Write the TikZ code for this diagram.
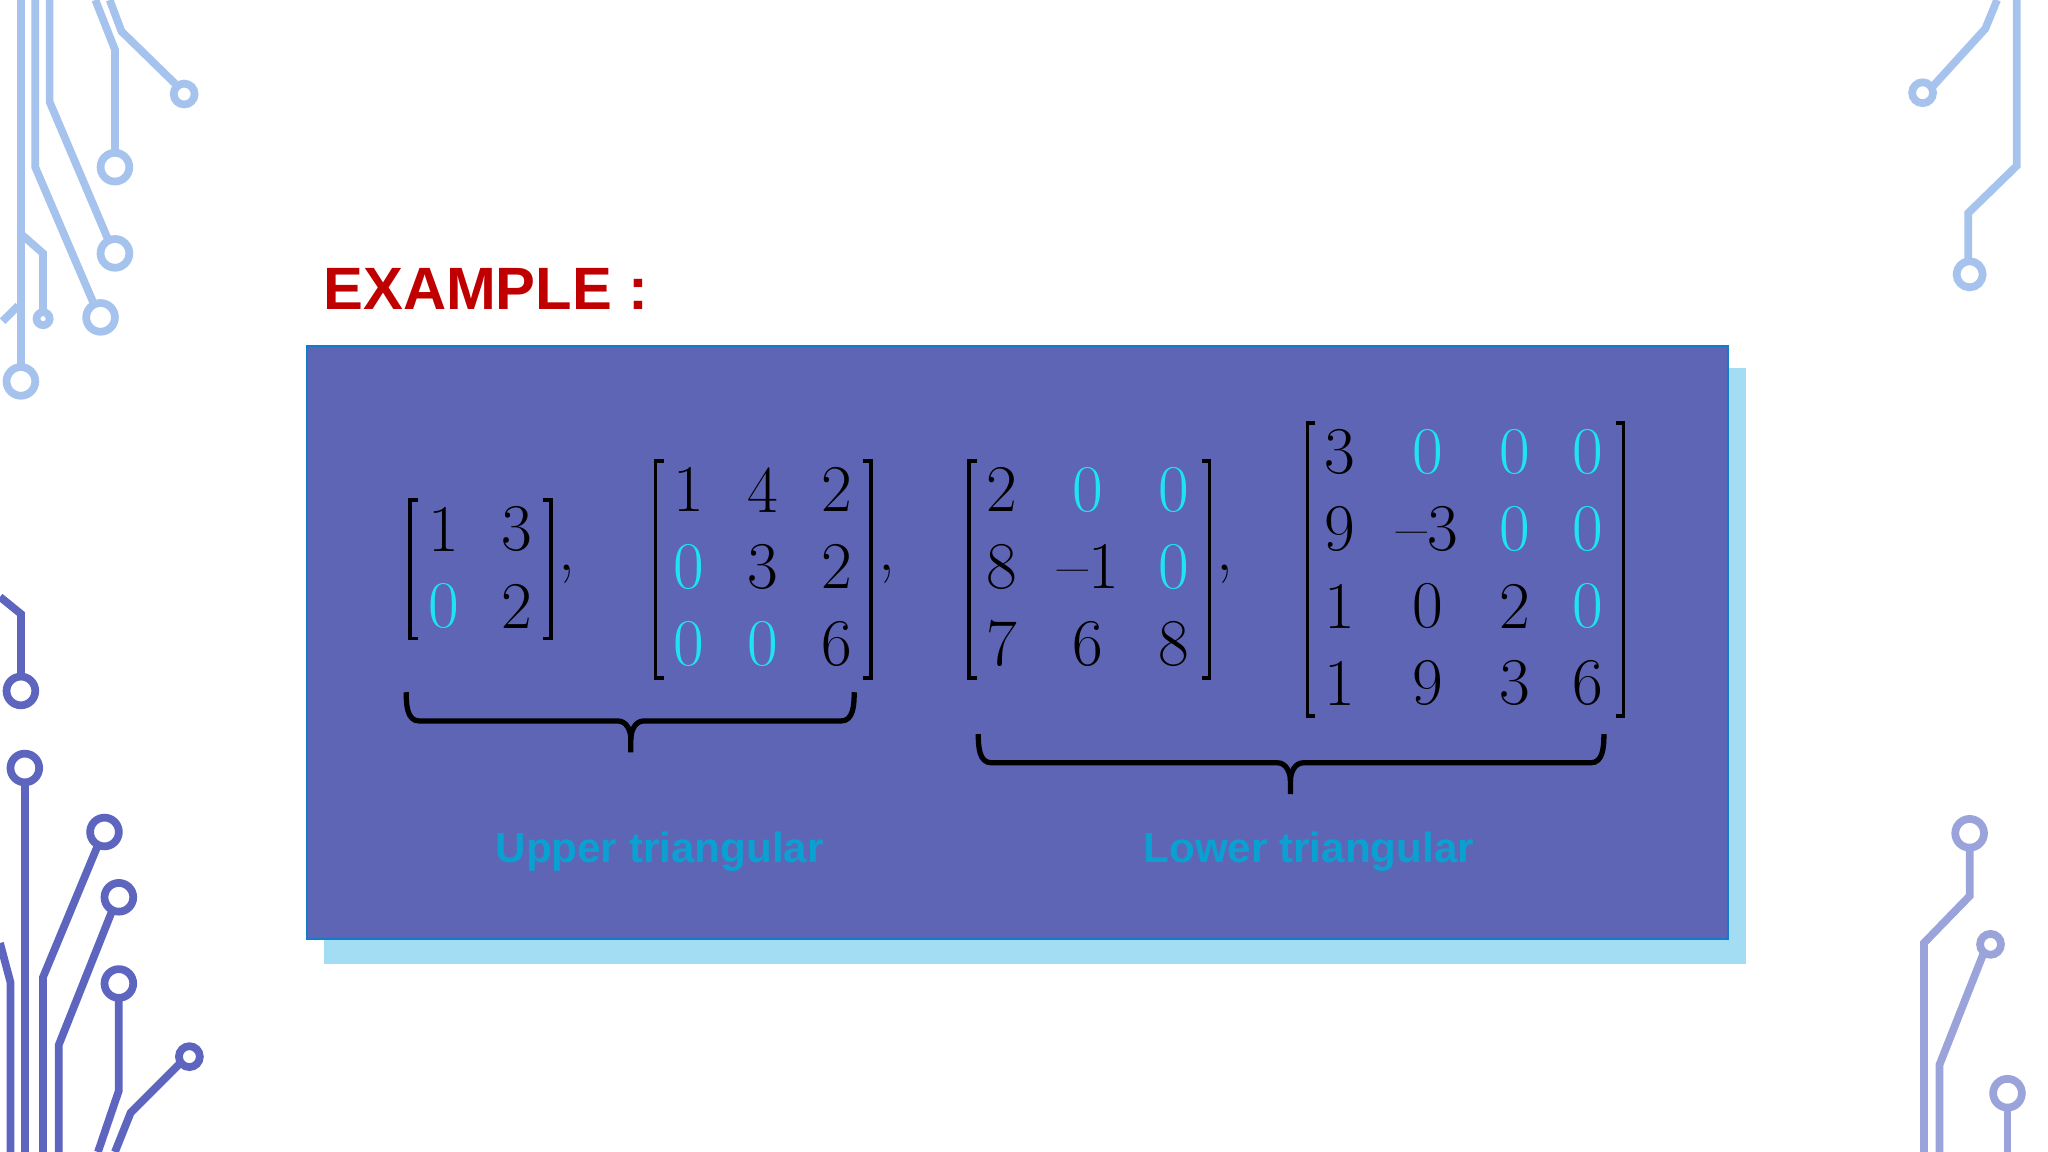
\documentclass[tikz,border=0pt]{standalone}
\usepackage{fontspec}
\newfontfamily\lab{Liberation Sans}
\definecolor{boxc}{HTML}{5E65B5}
\definecolor{shad}{HTML}{A3DDF3}
\definecolor{exred}{HTML}{C00000}
\definecolor{zc}{HTML}{1DE3F5}
\definecolor{labc}{HTML}{0AA0D2}
\definecolor{cirA}{HTML}{A6C3EE}
\definecolor{cirB}{HTML}{5D65BF}
\definecolor{cirC}{HTML}{9AA3DA}
\tikzset{
 ent/.style={font=\fontsize{19}{22}\selectfont, text=black, inner sep=0pt, anchor=center},
 zer/.style={ent, text=zc},
 brk/.style={line width=1pt, black},
 brc/.style={line width=1.5pt, black},
 cir/.style={line width=2.2pt},
 lbl/.style={font=\lab\bfseries\fontsize{12}{14}\selectfont, text=labc}
}
\begin{document}
\begin{tikzpicture}[x=0.01306cm,y=-0.01306cm]
\useasboundingbox (0,0) rectangle (1568,882);
\fill[white] (0,0) rectangle (1568,882);
% circuit top-left
\begin{scope}[cir, draw=cirA]
\draw (16,0) -- (16,281); \draw (16,292) circle (11);
\draw (27,0) -- (27,128) -- (72,233); \draw (77,243) circle (11);
\draw (38,0) -- (38,78) -- (83,184); \draw (88,194) circle (11);
\draw (73,0) -- (88,38) -- (88,117); \draw (88,128) circle (11);
\draw (84,0) -- (93,24) -- (134,64); \draw (141,72) circle (8);
\draw (16,179) -- (33,194) -- (33,239); \draw (33,244) circle (5);
\draw (14,234) -- (2,246);
\end{scope}
% circuit bottom-left
\begin{scope}[cir, draw=cirB]
\draw (0,457) -- (16,470) -- (16,518); \draw (16,529) circle (11);
\draw (19,599) -- (19,882); \draw (19,588) circle (11);
\draw (75,647) -- (33,748) -- (33,882); \draw (80,637) circle (11);
\draw (86,697) -- (45,800) -- (45,882); \draw (91,687) circle (11);
\draw (91,764) -- (91,835) -- (75,882); \draw (91,753) circle (11);
\draw (138,814) -- (100,852) -- (88,882); \draw (145,809) circle (8);
\draw (0,722) -- (8,752) -- (8,882);
\end{scope}
% circuit right
\begin{scope}[cir, draw=cirA]
\draw (1529,0) -- (1520,22) -- (1479,67); \draw (1472,71) circle (8);
\draw (1544,0) -- (1544,127) -- (1507,163) -- (1507,200); \draw (1508,210) circle (10);
\end{scope}
\begin{scope}[cir, draw=cirC]
\draw (1508,649) -- (1508,686) -- (1473,722) -- (1473,882); \draw (1508,638) circle (11);
\draw (1519,729) -- (1485,815) -- (1485,882); \draw (1524,723) circle (8);
\draw (1537,848) -- (1537,882); \draw (1537,837) circle (11);
\end{scope}
% title
\node[font=\lab\bfseries\fontsize{17}{20}\selectfont, text=exred, anchor=west, inner sep=0pt] (title) at (247,221) {EXAMPLE :};
% boxes
\fill[shad] (248,282) rectangle (1337,738);
\fill[boxc, draw=cyan!60!blue, line width=0.6pt] (235,265) rectangle (1323,719);
% matrix 1
\node[ent] (a11) at (340,405) {1}; \node[ent] (a12) at (396,405) {3};
\node[zer] (a21) at (340,464) {0}; \node[ent] (a22) at (396,464) {2};
\draw[brk] (320,383) -- (314,383) -- (314,489) -- (320,489);
\draw[brk] (416,383) -- (422,383) -- (422,489) -- (416,489);
\node[ent] (c1) at (434,440) {,};
% matrix 2
\node[ent] (b11) at (527,375) {1}; \node[ent] (b12) at (584,375) {4}; \node[ent] (b13) at (641,375) {2};
\node[zer] (b21) at (527,434) {0}; \node[ent] (b22) at (584,434) {3}; \node[ent] (b23) at (641,434) {2};
\node[zer] (b31) at (527,493) {0}; \node[zer] (b32) at (584,493) {0}; \node[ent] (b33) at (641,493) {6};
\draw[brk] (508,353) -- (502,353) -- (502,519) -- (508,519);
\draw[brk] (661,353) -- (667,353) -- (667,519) -- (661,519);
\node[ent] (c2) at (679,440) {,};
% matrix 3
\node[ent] (d11) at (767,375) {2}; \node[zer] (d12) at (833,375) {0}; \node[zer] (d13) at (899,375) {0};
\node[ent] (d21) at (767,434) {8}; \node[ent] (d22) at (833,434) {–1}; \node[zer] (d23) at (899,434) {0};
\node[ent] (d31) at (767,493) {7}; \node[ent] (d32) at (833,493) {6}; \node[ent] (d33) at (899,493) {8};
\draw[brk] (748,353) -- (742,353) -- (742,519) -- (748,519);
\draw[brk] (920,353) -- (926,353) -- (926,519) -- (920,519);
\node[ent] (c3) at (938,440) {,};
% matrix 4
\node[ent] (e11) at (1026,346) {3}; \node[zer] (e12) at (1093,346) {0}; \node[zer] (e13) at (1160,346) {0}; \node[zer] (e14) at (1216,346) {0};
\node[ent] (e21) at (1026,405) {9}; \node[ent] (e22) at (1093,405) {–3}; \node[zer] (e23) at (1160,405) {0}; \node[zer] (e24) at (1216,405) {0};
\node[ent] (e31) at (1026,464) {1}; \node[ent] (e32) at (1093,464) {0}; \node[ent] (e33) at (1160,464) {2}; \node[zer] (e34) at (1216,464) {0};
\node[ent] (e41) at (1026,523) {1}; \node[ent] (e42) at (1093,523) {9}; \node[ent] (e43) at (1160,523) {3}; \node[ent] (e44) at (1216,523) {6};
\draw[brk] (1007,324) -- (1001,324) -- (1001,548) -- (1007,548);
\draw[brk] (1237,324) -- (1243,324) -- (1243,548) -- (1237,548);
% braces
\draw[brc] (311,530) to[out=-90,in=180] (321,552) -- (473,552) to[out=0,in=90] (483,566) -- (483,576);
\draw[brc] (483,566) to[out=90,in=180] (493,552) -- (644,552) to[out=0,in=-90] (654,530);
\draw[brc] (749,562) to[out=-90,in=180] (759,584) -- (978,584) to[out=0,in=90] (988,598) -- (988,608);
\draw[brc] (988,598) to[out=90,in=180] (998,584) -- (1218,584) to[out=0,in=-90] (1228,562);
% labels
\node[lbl] (up) at (505,652) {Upper triangular};
\node[lbl] (lo) at (1002,652) {Lower triangular};
\end{tikzpicture}
\end{document}
